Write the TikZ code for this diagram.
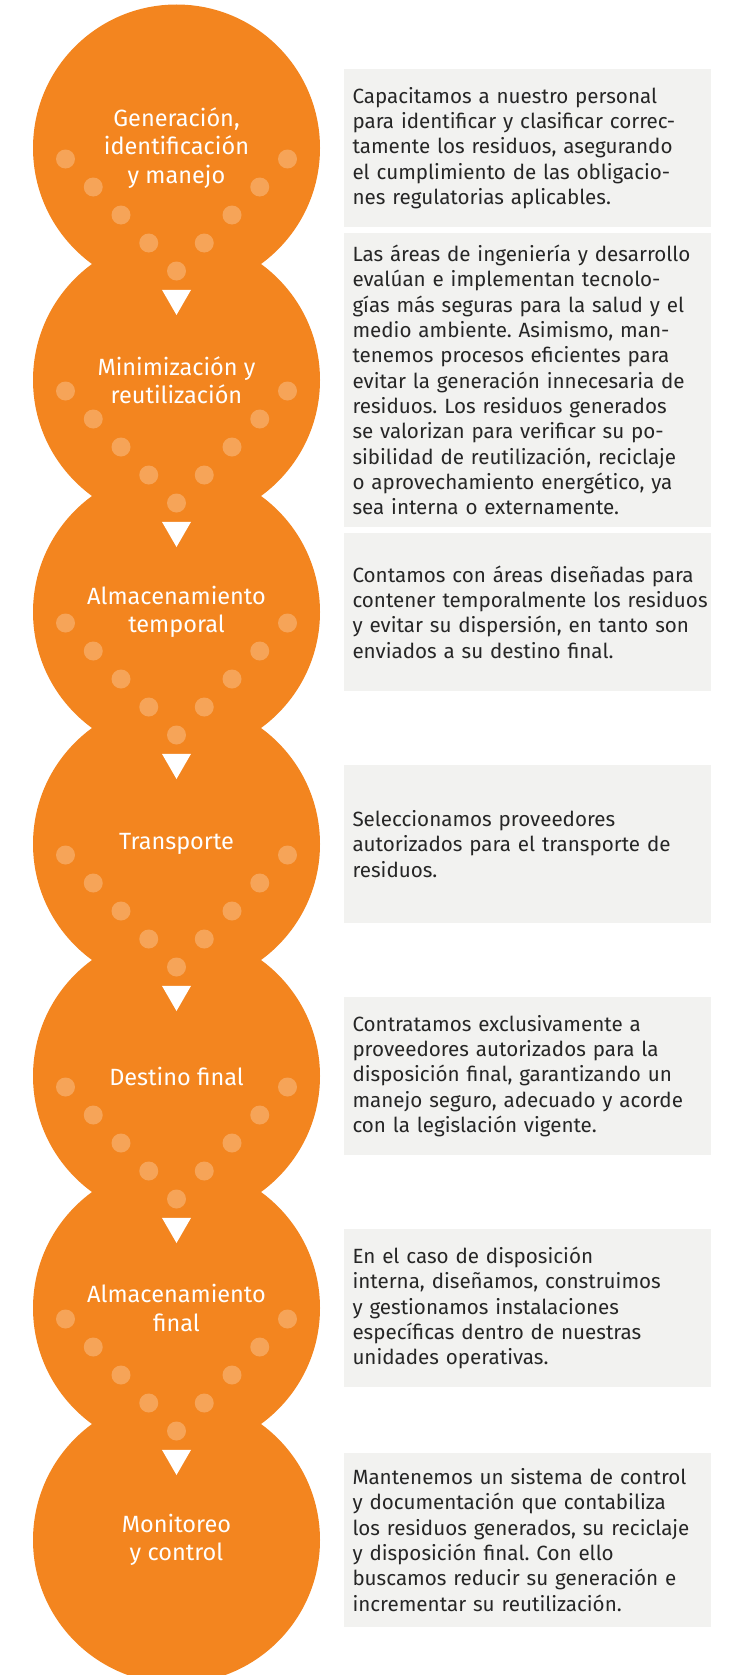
\documentclass[tikz,border=0pt]{standalone}
\usepackage{fontspec}
\setmainfont{Fira Sans}
\frenchspacing
\usetikzlibrary{positioning,shapes.geometric}
\definecolor{wasteorange}{HTML}{F3851F}
\definecolor{dotorange}{HTML}{F6A458}
\definecolor{panelgray}{HTML}{F2F2F0}
\tikzset{
    stage/.style = {
        circle,
        fill = wasteorange,
        minimum size = 287pt,
        inner sep = 0pt,
        outer sep = 0pt,
        text = white,
        align = center,
        font = \fontsize{23.5}{28.5}\selectfont
    },
    panel/.style = {
        rectangle,
        fill = panelgray,
        text width = 350pt,
        inner xsep = 8.5pt,
        inner ysep = 0pt,
        outer sep = 0pt,
        minimum height = 158pt,
        align = left,
        text = black!85,
        font = \fontsize{20.6}{25.3}\selectfont
    },
    spot/.style = {
        circle,
        fill = dotorange,
        minimum size = 19pt,
        inner sep = 0pt
    },
    pointer/.style = {
        regular polygon,
        regular polygon sides = 3,
        shape border rotate = 180,
        fill = white,
        minimum size = 33.5pt,
        inner sep = 0pt,
        outer sep = 0pt
    }
}

\begin{document}
\begin{tikzpicture}[node distance=-55pt]
    \useasboundingbox (0,0) rectangle (732pt,-1675pt);
%stages
    \node (s1) [stage] at (176.5pt,-148pt) {Generación,\\identificación\\y manejo};
    \node (s2) [stage, below=of s1] {Minimización y\\reutilización};
    \node (s3) [stage, below=of s2] {Almacenamiento\\temporal};
    \node (s4) [stage, below=of s3] {Transporte};
    \node (s5) [stage, below=of s4] {Destino final};
    \node (s6) [stage, below=of s5] {Almacenamiento\\final};
    \node (s7) [stage, below=of s6] {Monitoreo\\y control};
%dots
    \foreach \s in {1,...,6} {
        \foreach \i in {0,...,3} {
            \node (d\s l\i) [spot] at ([shift={(-111pt+27.75pt*\i,-11pt-28pt*\i)}]s\s.center) {};
            \node (d\s r\i) [spot] at ([shift={(111pt-27.75pt*\i,-11pt-28pt*\i)}]s\s.center) {};
        }
        \node (d\s c) [spot] at ([yshift=-123pt]s\s.center) {};
    }
%arrows
    \foreach \s in {2,...,7} {
        \node (t\s) [pointer, above=65pt of s\s.center] {};
    }
%descriptions
    \node (p1) [panel, right=24pt of s1] {Capacitamos a nuestro personal\\para identificar y clasificar correc-\\tamente los residuos, asegurando\\el cumplimiento de las obligacio-\\nes regulatorias aplicables.};
    \node (p2) [panel, right=24pt of s2, minimum height=294pt] {Las áreas de ingeniería y desarrollo\\evalúan e implementan tecnolo-\\gías más seguras para la salud y el\\medio ambiente. Asimismo, man-\\tenemos procesos eficientes para\\evitar la generación innecesaria de\\residuos. Los residuos generados\\se valorizan para verificar su po-\\sibilidad de reutilización, reciclaje\\o aprovechamiento energético, ya\\sea interna o externamente.};
    \node (p3) [panel, right=24pt of s3] {Contamos con áreas diseñadas para\\\mbox{contener temporalmente los residuos}\\y evitar su dispersión, en tanto son\\enviados a su destino final.};
    \node (p4) [panel, right=24pt of s4] {Seleccionamos proveedores\\autorizados para el transporte de\\residuos.};
    \node (p5) [panel, right=24pt of s5] {Contratamos exclusivamente a\\proveedores autorizados para la\\disposición final, garantizando un\\manejo seguro, adecuado y acorde\\con la legislación vigente.};
    \node (p6) [panel, right=24pt of s6] {En el caso de disposición\\interna, diseñamos, construimos\\y gestionamos instalaciones\\específicas dentro de nuestras\\unidades operativas.};
    \node (p7) [panel, right=24pt of s7, minimum height=174pt] {Mantenemos un sistema de control\\y documentación que contabiliza\\los residuos generados, su reciclaje\\y disposición final. Con ello\\buscamos reducir su generación e\\incrementar su reutilización.};
\end{tikzpicture}
\end{document}
